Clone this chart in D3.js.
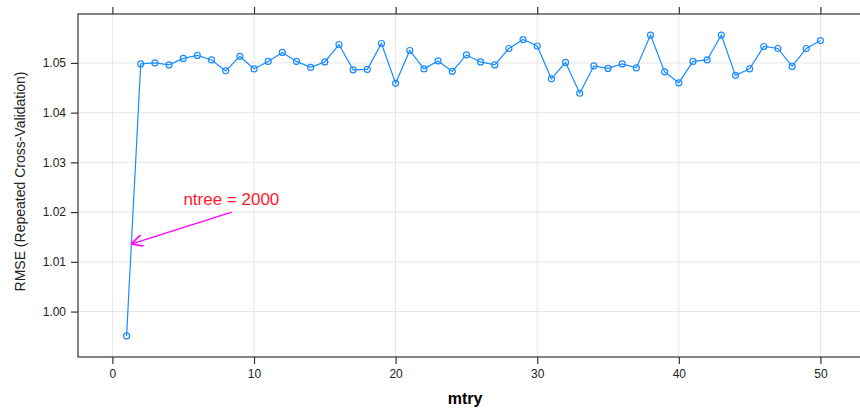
<!DOCTYPE html>
<html>
<head>
<meta charset="utf-8">
<script src="https://cdnjs.cloudflare.com/ajax/libs/d3/7.8.5/d3.min.js"></script>
<style>
  body { margin: 0; background: #fff; }
  text { font-family: "Liberation Sans", Arial, Helvetica, sans-serif; }
</style>
</head>
<body>
<div id="chart"></div>
<script>
// mtry values tried by the tuning grid
var mtry = d3.range(1, 51);

// RMSE, one per mtry
var rmse = [
  0.9951, 1.0498, 1.0500, 1.0496, 1.0509, 1.0515, 1.0506, 1.0484, 1.0513, 1.0488,
  1.0503, 1.0521, 1.0503, 1.0491, 1.0502, 1.0537, 1.0486, 1.0487, 1.0539, 1.0459,
  1.0525, 1.0488, 1.0504, 1.0483, 1.0516, 1.0502, 1.0496, 1.0529, 1.0547, 1.0534,
  1.0468, 1.0501, 1.0439, 1.0494, 1.0489, 1.0498, 1.0490, 1.0556, 1.0482, 1.0460,
  1.0503, 1.0506, 1.0556, 1.0475, 1.0488, 1.0533, 1.0529, 1.0493, 1.0529, 1.0545
];

var xTicks = [0, 10, 20, 30, 40, 50];
var yTicks = [1.00, 1.01, 1.02, 1.03, 1.04, 1.05];

// annotation: label and arrow (data units)
var noteText = "ntree = 2000";
var noteLabel = [8.4, 1.0214];
var noteFrom = [8.43, 1.0200];
var noteTo = [1.32, 1.01358];

var cfg = { w: 860, h: 410, left: 78, top: 14, right: 869, bot: 357 };

var data = mtry.map(function(m, i) { return { m: m, v: rmse[i] }; });

var svg = d3.select("#chart").append("svg")
  .attr("width", cfg.w)
  .attr("height", cfg.h);

// lattice style padding of 7% on each side
var xPad = (d3.max(mtry) - d3.min(mtry)) * 0.07;
var yExt = d3.extent(rmse);
var yPad = (yExt[1] - yExt[0]) * 0.07;

var x = d3.scaleLinear()
  .domain([d3.min(mtry) - xPad, d3.max(mtry) + xPad])
  .range([cfg.left, cfg.right]);

var y = d3.scaleLinear()
  .domain([yExt[0] - yPad, yExt[1] + yPad])
  .range([cfg.bot, cfg.top]);

// grid
var grid = svg.append("g").attr("class", "grid");
grid.selectAll(".gx").data(xTicks).enter().append("line")
  .attr("x1", function(d) { return x(d); })
  .attr("x2", function(d) { return x(d); })
  .attr("y1", cfg.top).attr("y2", cfg.bot)
  .attr("stroke", "#e6e6e6").attr("stroke-width", 1);
grid.selectAll(".gy").data(yTicks).enter().append("line")
  .attr("y1", function(d) { return y(d); })
  .attr("y2", function(d) { return y(d); })
  .attr("x1", cfg.left).attr("x2", cfg.right)
  .attr("stroke", "#e6e6e6").attr("stroke-width", 1);

// axes
var axBottom = d3.axisBottom(x).tickValues(xTicks).tickSize(7).tickPadding(5).tickSizeOuter(0);
var axTop = d3.axisTop(x).tickValues(xTicks).tickSize(7).tickFormat("").tickSizeOuter(0);
var axLeft = d3.axisLeft(y).tickValues(yTicks).tickSize(7).tickPadding(5)
  .tickFormat(d3.format(".2f")).tickSizeOuter(0);

function styleAxis(g) {
  g.select(".domain").remove();
  g.selectAll(".tick line").attr("stroke", "#333").attr("stroke-width", 1.2);
  g.selectAll(".tick text").attr("fill", "#222").style("font-size", "12px")
    .style("font-family", "'Liberation Sans', Arial, sans-serif");
}

svg.append("g").attr("transform", "translate(0," + cfg.bot + ")").call(axBottom).call(styleAxis);
svg.append("g").attr("transform", "translate(0," + cfg.top + ")").call(axTop).call(styleAxis);
svg.append("g").attr("transform", "translate(" + cfg.left + ",0)").call(axLeft).call(styleAxis);

// box
svg.append("rect")
  .attr("x", cfg.left).attr("y", cfg.top)
  .attr("width", cfg.right - cfg.left).attr("height", cfg.bot - cfg.top)
  .attr("fill", "none").attr("stroke", "#333").attr("stroke-width", 1.2);

// series
var line = d3.line()
  .x(function(d) { return x(d.m); })
  .y(function(d) { return y(d.v); });

svg.append("path").datum(data)
  .attr("d", line)
  .attr("fill", "none")
  .attr("stroke", "#1a8cff")
  .attr("stroke-width", 1.2);

svg.selectAll(".pt").data(data).enter().append("circle")
  .attr("class", "pt")
  .attr("cx", function(d) { return x(d.m); })
  .attr("cy", function(d) { return y(d.v); })
  .attr("r", 3)
  .attr("fill", "none")
  .attr("stroke", "#1a8cff")
  .attr("stroke-width", 1.2);

// annotation arrow
svg.append("defs").append("marker")
  .attr("id", "head")
  .attr("viewBox", "0 0 10 10")
  .attr("refX", 10).attr("refY", 5)
  .attr("markerWidth", 12).attr("markerHeight", 12)
  .attr("markerUnits", "userSpaceOnUse")
  .attr("orient", "auto")
  .append("path")
  .attr("d", "M0,0 L10,5 L0,10")
  .attr("fill", "none")
  .attr("stroke", "#ff00ff")
  .attr("stroke-width", 1.4);

svg.append("line")
  .attr("x1", x(noteFrom[0])).attr("y1", y(noteFrom[1]))
  .attr("x2", x(noteTo[0])).attr("y2", y(noteTo[1]))
  .attr("stroke", "#ff00ff").attr("stroke-width", 1.3)
  .attr("marker-end", "url(#head)");

svg.append("text")
  .attr("x", x(noteLabel[0])).attr("y", y(noteLabel[1]))
  .attr("text-anchor", "middle")
  .attr("fill", "#ff1a2e")
  .style("font-size", "17px")
  .text(noteText);

// axis titles
svg.append("text")
  .attr("x", (cfg.left + 860) / 2 - 4).attr("y", 404)
  .attr("text-anchor", "middle")
  .style("font-size", "16px").style("font-weight", "bold")
  .attr("fill", "#000")
  .text("mtry");

svg.append("text")
  .attr("transform", "translate(25," + ((cfg.top + cfg.bot) / 2 - 4) + ") rotate(-90)")
  .attr("text-anchor", "middle")
  .style("font-size", "14px")
  .attr("fill", "#222")
  .text("RMSE (Repeated Cross-Validation)");
</script>
</body>
</html>
